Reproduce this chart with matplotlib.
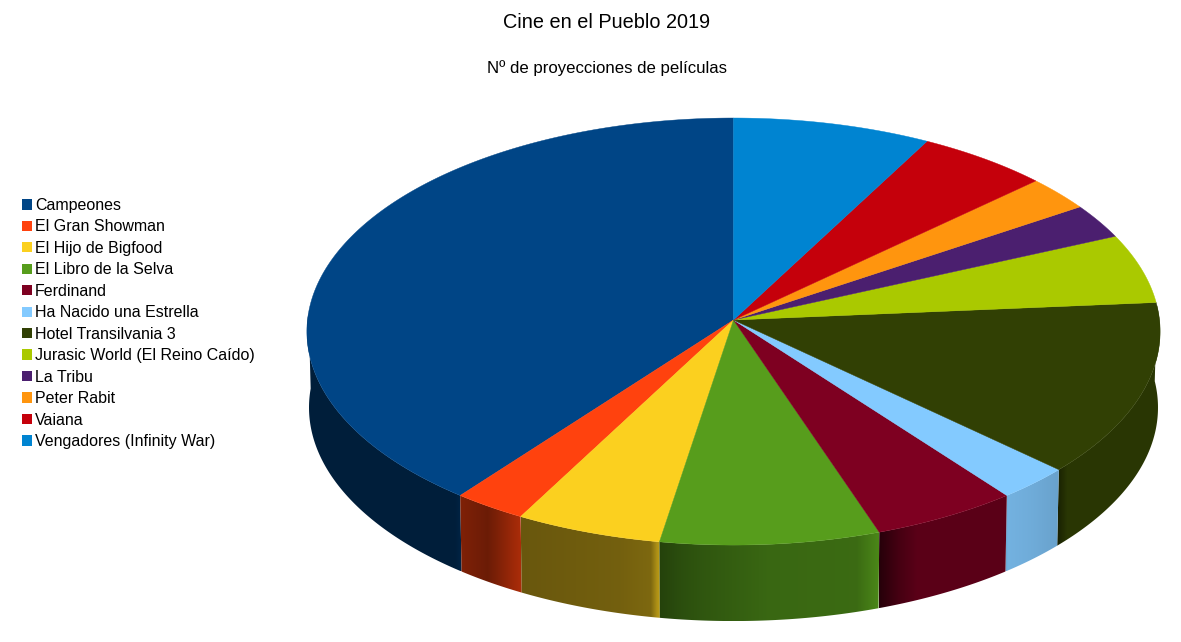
import numpy as np
import matplotlib
matplotlib.use('Agg')
import matplotlib.pyplot as plt
from matplotlib.patches import Polygon, Patch

plt.rcParams['font.family'] = ['Liberation Sans', 'DejaVu Sans']

# ************ DATA ***************

MOVIES = ['Campeones', 'El Gran Showman', 'El Hijo de Bigfood', 'El Libro de la Selva',
          'Ferdinand', 'Ha Nacido una Estrella', 'Hotel Transilvania 3',
          'Jurasic World (El Reino Caído)', 'La Tribu', 'Peter Rabit', 'Vaiana',
          'Vengadores (Infinity War)']
SCREENINGS = [15, 1, 2, 3, 2, 1, 5, 2, 1, 1, 2, 3]

# ************ STYLE ***************

COLORS = ['#004586', '#ff420e', '#fbd01f', '#579d1c', '#7e0021', '#83caff',
          '#314004', '#aac900', '#4b1f6f', '#ff950e', '#c5000b', '#0084d1']

# brightness across the visible side of each slice (position, factor)
SIDE_SHADES = {
    0: [(0, .44), (.96, .44), (1, .52)],
    1: [(0, .5), (.45, .42), (1, .68)],
    2: [(0, .42), (.7, .46), (.93, .5), (.97, .68), (1, .78)],
    3: [(0, .42), (.1, .5), (.2, .55), (.5, .66), (.9, .68), (1, .86)],
    4: [(0, .3), (.15, .55), (.3, .72), (1, .72)],
    5: [(0, .8), (.05, .88), (.5, .85), (1, .8)],
    6: [(0, .5), (.1, .85), (1, .85)],
}

CX, CY = 733.5, 320
RX, RY = 426, 212.9
TILT = 0.054
DEPTH = 76
BOTTOM_SCALE = 0.995


def Project(theta, radius=1.0):
    # theta in degrees, counter clockwise from the top of the pie
    u = -np.sin(np.radians(theta)) * radius
    v = np.cos(np.radians(theta)) * radius
    return CX + RX * u / (1 + TILT * v), CY - RY * v / (1 + TILT * v)


def ShadeStrip(color, stops):
    pos = np.linspace(0, 1, 200)
    factor = np.interp(pos, [s[0] for s in stops], [s[1] for s in stops])
    rgb = np.array(matplotlib.colors.to_rgb(color))
    return (factor[:, None] * rgb)[None, :, :]


fig = plt.figure(figsize=(11.81, 6.42), dpi=100)
ax = fig.add_axes([0, 0, 1, 1])

edges = np.concatenate([[0], np.cumsum(SCREENINGS)]) / sum(SCREENINGS) * 360

# sides first, the ones at the back before the ones at the front
order = sorted(range(len(MOVIES)), key=lambda k: -abs((edges[k] + edges[k + 1]) / 2 - 180))
for i in order:
    start, end = max(edges[i], 88), min(edges[i + 1], 274)
    if end <= start or i not in SIDE_SHADES:
        continue
    t = np.linspace(start, end, 150)
    x, y = Project(t)
    xb = CX + (x - CX) * BOTTOM_SCALE
    yb = y + DEPTH
    pts = np.column_stack([np.concatenate([x, xb[::-1]]), np.concatenate([y, yb[::-1]])])
    poly = Polygon(pts, closed=True, fc='none', ec='none')
    ax.add_patch(poly)
    im = ax.imshow(ShadeStrip(COLORS[i], SIDE_SHADES[i]), aspect='auto', interpolation='bilinear',
                   extent=[pts[:, 0].min(), pts[:, 0].max(), pts[:, 1].max(), pts[:, 1].min()])
    im.set_clip_path(poly)

# top face
for i in range(len(MOVIES)):
    t = np.linspace(edges[i], edges[i + 1], 200)
    x, y = Project(t)
    pts = np.column_stack([np.concatenate([[CX], x]), np.concatenate([[CY], y])])
    ax.add_patch(Polygon(pts, closed=True, fc=COLORS[i], ec=COLORS[i], lw=0.3))

ax.set_xlim(0, 1181)
ax.set_ylim(642, 0)
ax.axis('off')

ax.text(607, 22.5, 'Cine en el Pueblo 2019', ha='center', va='center', fontsize=14.3, color='black')
ax.text(607, 68.5, 'Nº de proyecciones de películas', ha='center', va='center', fontsize=12.1, color='black')

handles = [Patch(fc=c, ec='none') for c in COLORS]
ax.legend(handles, MOVIES, loc='upper left', bbox_to_anchor=(22 / 1181, 1 - 198 / 642), frameon=False,
          fontsize=11.5, handlelength=0.62, handleheight=0.62, handletextpad=0.2,
          labelspacing=0.405, borderpad=0, borderaxespad=0, labelcolor='black')

fig.savefig('out.png', dpi=100)
